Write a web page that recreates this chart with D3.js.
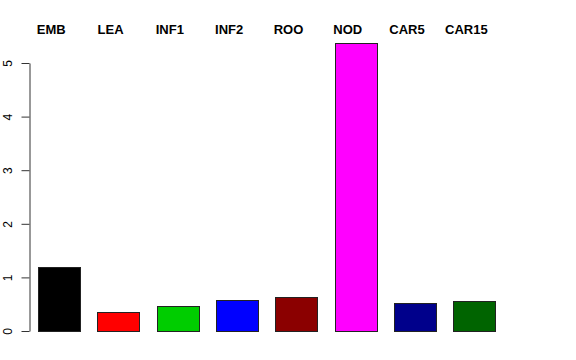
<!DOCTYPE html>
<html>
<head>
<meta charset="utf-8">
<style>
body { margin: 0; background: #fff; }
svg { display: block; font-family: "Liberation Sans", Arial, Helvetica, sans-serif; }
</style>
</head>
<body>
<div id="chart"></div>
<script src="https://d3js.org/d3.v7.min.js"></script>
<script>
// tissues and values
var tissues = ["EMB", "LEA", "INF1", "INF2", "ROO", "NOD", "CAR5", "CAR15"];
var values = [1.19, 0.36, 0.46, 0.58, 0.63, 5.37, 0.53, 0.56];
var colors = ["#000000", "#ff0000", "#00cd00", "#0000ff", "#8b0000", "#ff00ff", "#00008b", "#006400"];
var yTicks = [0, 1, 2, 3, 4, 5];

var width = 576, height = 360;

var svg = d3.select("#chart")
            .append("svg")
            .attr("width", width)
            .attr("height", height);

var xScale = d3.scaleBand()
               .domain(tissues)
               .range([29.6, 504])
               .paddingInner(0.29)
               .paddingOuter(0.145);

var yScale = d3.scaleLinear()
               .domain([0, 5])
               .range([331, 63]);

// bars
svg.selectAll("rect.bar")
   .data(tissues)
   .enter()
   .append("rect")
   .attr("class", "bar")
   .attr("x", function(d) { return Math.round(xScale(d)) + 0.5; })
   .attr("y", function(d, i) { return Math.round(yScale(values[i])) + 0.5; })
   .attr("width", Math.round(xScale.bandwidth()))
   .attr("height", function(d, i) { return Math.round(yScale(0)) - Math.round(yScale(values[i])); })
   .attr("fill", function(d, i) { return colors[i]; })
   .attr("stroke", "#222")
   .attr("stroke-width", 1);

// y axis (R style: rotated tick labels)
var yAxis = svg.append("g")
               .attr("transform", "translate(29.5,0)")
               .call(d3.axisLeft(yScale)
                       .tickValues(yTicks)
                       .tickFormat(d3.format("d"))
                       .tickSize(8)
                       .tickSizeOuter(0)
                       .tickPadding(0));

yAxis.select(".domain").attr("stroke", "#333");
yAxis.selectAll(".tick line").attr("stroke", "#333");
yAxis.selectAll(".tick text")
     .attr("x", null)
     .attr("dy", null)
     .attr("transform", "translate(-18,0) rotate(-90)")
     .style("text-anchor", "middle")
     .style("font-size", "12px")
     .style("font-family", "'Liberation Sans', Arial, sans-serif")
     .attr("fill", "#000");

// tissue labels along the top (sit a little left of each bar centre)
svg.selectAll("text.lab")
   .data(tissues)
   .enter()
   .append("text")
   .attr("class", "lab")
   .attr("x", function(d) { return xScale(d) + xScale.bandwidth() / 2 - 8; })
   .attr("y", 34)
   .style("text-anchor", "middle")
   .style("font-size", "13px")
   .style("font-weight", "bold")
   .text(function(d) { return d; });
</script>
</body>
</html>
